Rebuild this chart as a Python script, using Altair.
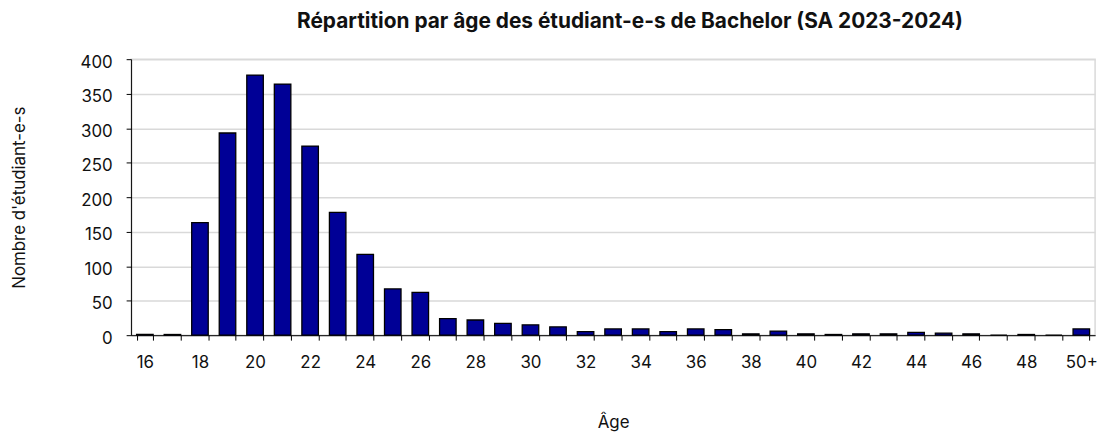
import altair as alt
import pandas as pd

ages = ["16", "17", "18", "19", "20", "21", "22", "23", "24", "25", "26", "27",
        "28", "29", "30", "31", "32", "33", "34", "35", "36", "37", "38", "39",
        "40", "41", "42", "43", "44", "45", "46", "47", "48", "49", "50+"]
counts = [1, 1, 163, 293, 377, 364, 274, 178, 117, 67, 62, 24,
          22, 17, 15, 12, 5, 9, 9, 5, 9, 8, 2, 6,
          2, 1, 2, 2, 4, 3, 2, 0, 1, 0, 9]
y_ticks = [0, 50, 100, 150, 200, 250, 300, 350, 400]

df = pd.DataFrame({"age": ages, "n": counts})

FONT = "Inter"

chart = alt.Chart(df).mark_bar(
    color="#000096", stroke="#000000", strokeWidth=1.3
).encode(
    x=alt.X("age:N", sort=ages,
            scale=alt.Scale(paddingInner=0.4, paddingOuter=0.2),
            axis=alt.Axis(title="Âge", labelAngle=0, tickBand="extent",
                          labelExpr="datum.value == '50+' || toNumber(datum.value) % 2 == 0 ? datum.label : ''",
                          domainColor="#000000", tickColor="#000000", tickSize=5,
                          labelPadding=15, labelFontSize=17, labelColor="#111111",
                          labelFont=FONT, titleFont=FONT, titleFontSize=17,
                          titleFontWeight="normal", titleColor="#111111",
                          titleBaseline="middle", titleY=88, grid=False)),
    y=alt.Y("n:Q",
            scale=alt.Scale(domain=[0, 400], nice=False),
            axis=alt.Axis(title="Nombre d'étudiant-e-s", values=y_ticks,
                          domainColor="#000000", tickColor="#000000", tickSize=5,
                          labelPadding=14, labelFontSize=17, labelColor="#111111",
                          labelFont=FONT, titleFont=FONT, titleFontSize=17,
                          titleFontWeight="normal", titleColor="#111111",
                          titleAngle=-90, titleAlign="center", titleBaseline="middle",
                          titleX=-112, titleY=139,
                          gridColor="#d9d9d9", gridWidth=1.5, labelOffset=3)),
).properties(
    width=971, height=278,
    title=alt.TitleParams("Répartition par âge des étudiant-e-s de Bachelor (SA 2023-2024)",
                          font=FONT, fontSize=21, fontWeight="bold", color="#111111",
                          anchor="middle", dx=17, offset=21),
    autosize=alt.AutoSizeParams(type="none"),
    padding={"left": 124, "top": 50, "right": 12, "bottom": 100},
).configure_view(stroke="#d9d9d9", strokeWidth=1.5)

chart.save("out.html", embed_options={"renderer": "svg", "actions": False})
